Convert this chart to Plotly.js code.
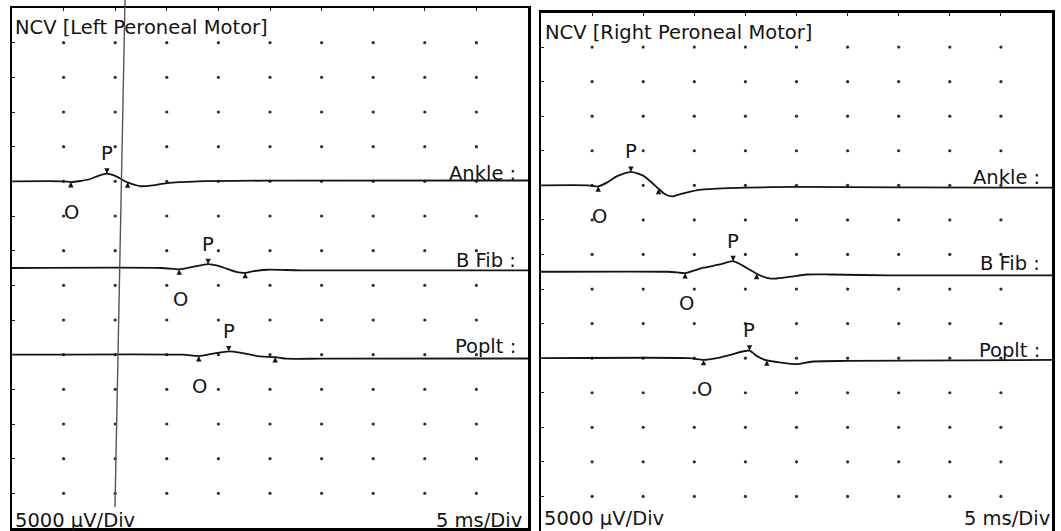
<!DOCTYPE html>
<html>
<head>
<meta charset="utf-8">
<script src="https://cdn.plot.ly/plotly-3.0.1.min.js"></script>
<style>
  html, body { margin: 0; padding: 0; background: #fff; }
  #chart { width: 1061px; height: 531px; }
</style>
</head>
<body>
<div id="chart"></div>
<script>
// ---------------- DATA (time in ms, amplitude in mV relative to each trace's baseline) ----------------
const siteLabels = ['Ankle :', 'B Fib :', 'Poplt :'];
const panelTitles = ['NCV [Left Peroneal Motor]', 'NCV [Right Peroneal Motor]'];
const sensitivityLabel = '5000 \u00B5V/Div';
const sweepLabel = '5 ms/Div';

// Left peroneal motor
const leftAnkleT  = [0, 5.0, 5.7, 6.6, 7.5, 8.3, 9.2, 10.1, 10.9, 11.2, 11.9, 12.4, 13.6, 15.0, 18.0, 25, 50];
const leftAnkleMv = [0, 0, -0.1, 0.05, 0.3, 0.75, 1.1, 0.72, 0.05, -0.15, -0.5, -0.7, -0.58, -0.25, 0, 0.1, 0.12];
const leftBFibT   = [0, 14.5, 16.2, 17.5, 19.0, 20.0, 20.8, 21.7, 22.6, 23.4, 24.7, 28, 50];
const leftBFibMv  = [0, 0, -0.2, 0.15, 0.55, 0.3, -0.1, -0.55, -0.7, -0.45, -0.25, -0.33, -0.35];
const leftPopltT  = [0, 16.5, 18.1, 19.5, 21.0, 22.1, 24.0, 25.5, 26.6, 30, 50];
const leftPopltMv = [0, 0, -0.2, 0.15, 0.48, 0.3, -0.25, -0.35, -0.58, -0.58, -0.55];
const leftOnsetMs = [5.7, 16.2, 18.1];
const leftPeakMs  = [9.2, 19.0, 21.0];
const leftEndMs   = [11.2, 22.6, 25.5];

// Right peroneal motor
const rightAnkleT  = [0, 4.6, 5.6, 6.4, 7.4, 8.8, 10.0, 10.8, 11.5, 12.1, 12.8, 13.8, 15.2, 17.2, 20.1, 25, 35, 50];
const rightAnkleMv = [0, 0, -0.15, 0.35, 1.3, 1.95, 1.4, 0.45, -0.5, -1.25, -1.6, -1.2, -0.72, -0.48, -0.33, -0.23, -0.3, -0.33];
const rightBFibT   = [0, 12.5, 13.3, 14.1, 15.9, 17.5, 18.8, 20.1, 21.1, 22.1, 22.9, 24.4, 26.0, 28.3, 34, 50];
const rightBFibMv  = [0, 0, -0.1, -0.2, 0.58, 1.05, 1.53, 0.58, -0.3, -0.87, -1.0, -0.72, -0.4, -0.4, -0.53, -0.53];
const rightPopltT  = [0, 14.5, 15.9, 17.2, 18.5, 20.4, 21.1, 22.1, 23.4, 25.0, 26.6, 30, 50];
const rightPopltMv = [0, 0, -0.25, 0, 0.48, 1.1, 0.33, -0.33, -0.63, -0.87, -0.48, -0.4, -0.25];
const rightOnsetMs = [5.6, 14.1, 15.9];
const rightPeakMs  = [8.8, 18.8, 20.4];
const rightEndMs   = [11.5, 21.1, 22.1];

// Cursor line on left panel (ms at top, ms at bottom)
const leftCursorMs = [10.95, 9.98];

// ---------------- DISPLAY SETTINGS ----------------
const W = 1061, H = 531;
const msPerDiv = 5, mVPerDiv = 5, xDivs = 10, yDivs = 15;
const rowDiv = [5, 7.5, 10];   // baseline of each trace, in divisions from the top
const FONT = 'DejaVu Sans';
const FS = 19.5;
const INK = '#141414';

const px = v => v / W;
const py = v => 1 - v / H;

function interp(ts, vs, t) {
  for (let i = 0; i < ts.length - 1; i++) {
    if (t >= ts[i] && t <= ts[i + 1]) {
      const f = (t - ts[i]) / (ts[i + 1] - ts[i]);
      return vs[i] + f * (vs[i + 1] - vs[i]);
    }
  }
  return vs[vs.length - 1];
}

const panels = [
  {
    xa: 'x', ya: 'y',
    traces: [[leftAnkleT, leftAnkleMv], [leftBFibT, leftBFibMv], [leftPopltT, leftPopltMv]],
    onset: leftOnsetMs, peak: leftPeakMs, end: leftEndMs
  },
  {
    xa: 'x2', ya: 'y2',
    traces: [[rightAnkleT, rightAnkleMv], [rightBFibT, rightBFibMv], [rightPopltT, rightPopltMv]],
    onset: rightOnsetMs, peak: rightPeakMs, end: rightEndMs
  }
];

const data = [];
const annotations = [];

panels.forEach((p, pi) => {
  // grid dots
  const gx = [], gy = [];
  for (let c = 1; c < xDivs; c++) for (let r = 1; r < yDivs; r++) { gx.push(c * msPerDiv); gy.push(-r * mVPerDiv); }
  data.push({
    x: gx, y: gy, xaxis: p.xa, yaxis: p.ya, type: 'scatter', mode: 'markers',
    marker: { size: 3.2, color: '#2e2e2e' }, hoverinfo: 'skip', showlegend: false
  });
  p.traces.forEach((tr, ti) => {
    const base = -rowDiv[ti] * mVPerDiv;
    data.push({
      x: tr[0], y: tr[1].map(v => v + base), xaxis: p.xa, yaxis: p.ya,
      type: 'scatter', mode: 'lines',
      line: { color: INK, width: 1.8, shape: 'spline', smoothing: 0.6 },
      hoverinfo: 'skip', showlegend: false
    });
    const yAt = t => interp(tr[0], tr[1], t) + base;
    const tO = p.onset[ti], tP = p.peak[ti], tE = p.end[ti];
    // markers (arrowheads)
    const arrow = (t, ay) => ({
      xref: p.xa, yref: p.ya, x: t, y: yAt(t), text: '', showarrow: true,
      arrowhead: 2, arrowsize: 0.9, arrowwidth: 1.2, arrowcolor: INK, ax: 0, ay: ay, standoff: 0,
      font: { size: 1 }
    });
    annotations.push(arrow(tP, -5));
    annotations.push(arrow(tO, 5));
    annotations.push(arrow(tE, 5));
    // P / O labels
    annotations.push({
      xref: p.xa, yref: p.ya, x: tP, y: yAt(tP), text: 'P', showarrow: false,
      yanchor: 'middle', yshift: 20, font: { family: FONT, size: FS, color: INK }
    });
    annotations.push({
      xref: p.xa, yref: p.ya, x: tO, y: yAt(tO), text: 'O', showarrow: false,
      yanchor: 'middle', yshift: -30, xshift: 1, font: { family: FONT, size: FS, color: INK }
    });
    // site label
    annotations.push({
      xref: p.xa, yref: p.ya, x: xDivs * msPerDiv, y: base, text: siteLabels[ti], showarrow: false,
      xanchor: 'right', yanchor: 'middle', xshift: -10, yshift: 8,
      font: { family: FONT, size: FS, color: INK }
    });
  });
});

// panel titles and scale labels (pixel placement)
const txt = (s, xp, yp, anchor) => ({
  xref: 'paper', yref: 'paper', x: px(xp), y: py(yp), text: s, showarrow: false,
  xanchor: anchor, yanchor: 'middle', font: { family: FONT, size: FS, color: INK }
});
annotations.push(txt(panelTitles[0], 13, 28, 'left'));
annotations.push(txt(panelTitles[1], 543, 33, 'left'));
annotations.push(txt(sensitivityLabel, 13, 520, 'left'));
annotations.push(txt(sweepLabel, 524, 520, 'right'));
annotations.push(txt(sensitivityLabel, 542, 518, 'left'));
annotations.push(txt(sweepLabel, 1052, 518, 'right'));

const axisCommon = {
  showgrid: false, zeroline: false, showticklabels: false,
  showline: true, mirror: true, linecolor: '#000', linewidth: 2.5,
  ticks: 'inside', ticklen: 3, tickwidth: 1, tickcolor: '#222', fixedrange: true
};

const layout = {
  width: W, height: H,
  margin: { l: 0, r: 0, t: 0, b: 0, pad: 0 },
  paper_bgcolor: '#fff', plot_bgcolor: '#fff',
  showlegend: false,
  xaxis: Object.assign({}, axisCommon, { domain: [px(12), px(528)], range: [0, xDivs * msPerDiv], dtick: msPerDiv, side: 'top', anchor: 'y' }),
  yaxis: Object.assign({}, axisCommon, { domain: [py(528), py(8)], range: [-yDivs * mVPerDiv, 0], dtick: mVPerDiv, anchor: 'x' }),
  xaxis2: Object.assign({}, axisCommon, { domain: [px(541), px(1052)], range: [0, xDivs * msPerDiv], dtick: msPerDiv, side: 'top', anchor: 'y2' }),
  yaxis2: Object.assign({}, axisCommon, { domain: [0, py(12.5)], range: [-yDivs * mVPerDiv, 0], dtick: mVPerDiv, anchor: 'x2' }),
  shapes: [{
    type: 'line', xref: 'x', yref: 'paper',
    x0: leftCursorMs[0], y0: 1, x1: leftCursorMs[1], y1: py(507),
    line: { color: '#555', width: 1.4 }
  }],
  annotations: annotations
};

Plotly.newPlot('chart', data, layout, { displayModeBar: false, staticPlot: true });
</script>
</body>
</html>
